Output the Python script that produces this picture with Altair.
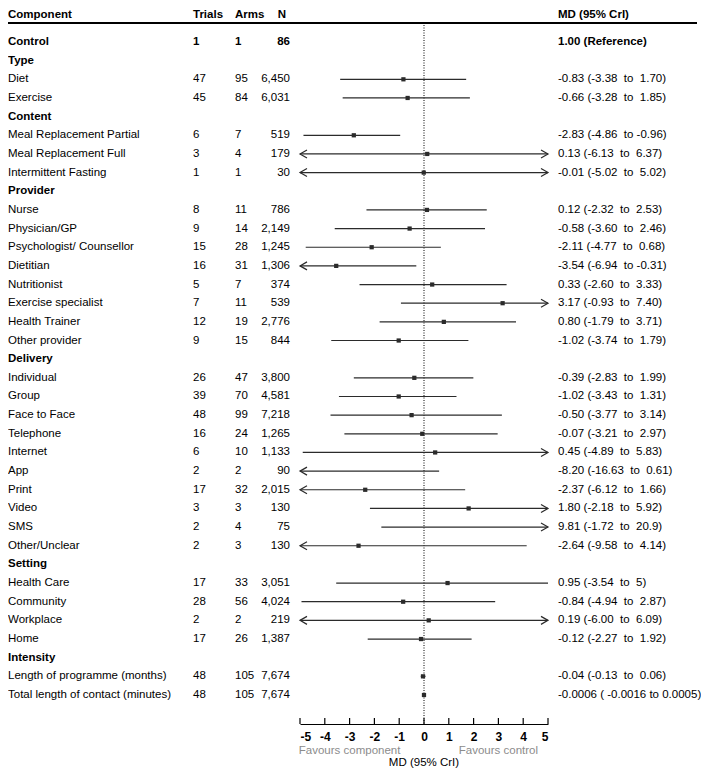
import altair as alt
import pandas as pd

components = ["Control", "Type", "Diet", "Exercise", "Content", "Meal Replacement Partial",
              "Meal Replacement Full", "Intermittent Fasting", "Provider", "Nurse", "Physician/GP",
              "Psychologist/ Counsellor", "Dietitian", "Nutritionist", "Exercise specialist",
              "Health Trainer", "Other provider", "Delivery", "Individual", "Group", "Face to Face",
              "Telephone", "Internet", "App", "Print", "Video", "SMS", "Other/Unclear", "Setting",
              "Health Care", "Community", "Workplace", "Home", "Intensity",
              "Length of programme (months)", "Total length of contact (minutes)"]
bold = [True, True, False, False, True, False, False, False, True, False, False, False, False,
        False, False, False, False, True, False, False, False, False, False, False, False, False,
        False, False, True, False, False, False, False, True, False, False]
trials = [1, None, 47, 45, None, 6, 3, 1, None, 8, 9, 15, 16, 5, 7, 12, 9, None, 26, 39, 48, 16,
          6, 2, 17, 3, 2, 2, None, 17, 28, 2, 17, None, 48, 48]
arms = [1, None, 95, 84, None, 7, 4, 1, None, 11, 14, 28, 31, 7, 11, 19, 15, None, 47, 70, 99, 24,
        10, 2, 32, 3, 4, 3, None, 33, 56, 2, 26, None, 105, 105]
n_obs = [86, None, 6450, 6031, None, 519, 179, 30, None, 786, 2149, 1245, 1306, 374, 539, 2776, 844,
         None, 3800, 4581, 7218, 1265, 1133, 90, 2015, 130, 75, 130, None, 3051, 4024, 219, 1387,
         None, 7674, 7674]
est = [None, None, -0.83, -0.66, None, -2.83, 0.13, -0.01, None, 0.12, -0.58, -2.11, -3.54, 0.33,
       3.17, 0.80, -1.02, None, -0.39, -1.02, -0.50, -0.07, 0.45, -8.20, -2.37, 1.80, 9.81, -2.64,
       None, 0.95, -0.84, 0.19, -0.12, None, -0.04, -0.0006]
lo = [None, None, -3.38, -3.28, None, -4.86, -6.13, -5.02, None, -2.32, -3.60, -4.77, -6.94, -2.60,
      -0.93, -1.79, -3.74, None, -2.83, -3.43, -3.77, -3.21, -4.89, -16.63, -6.12, -2.18, -1.72,
      -9.58, None, -3.54, -4.94, -6.00, -2.27, None, -0.13, -0.0016]
hi = [None, None, 1.70, 1.85, None, -0.96, 6.37, 5.02, None, 2.53, 2.46, 0.68, -0.31, 3.33, 7.40,
      3.71, 1.79, None, 1.99, 1.31, 3.14, 2.97, 5.83, 0.61, 1.66, 5.92, 20.9, 4.14, None, 5, 2.87,
      6.09, 1.92, None, 0.06, 0.0005]
md_labels = [" 1.00 (Reference)", "", "-0.83 (-3.38  to  1.70)", "-0.66 (-3.28  to  1.85)", "",
             "-2.83 (-4.86  to -0.96)", " 0.13 (-6.13  to  6.37)", "-0.01 (-5.02  to  5.02)", "",
             " 0.12 (-2.32  to  2.53)", "-0.58 (-3.60  to  2.46)", "-2.11 (-4.77  to  0.68)",
             "-3.54 (-6.94  to -0.31)", " 0.33 (-2.60  to  3.33)", " 3.17 (-0.93  to  7.40)",
             " 0.80 (-1.79  to  3.71)", "-1.02 (-3.74  to  1.79)", "",
             "-0.39 (-2.83  to  1.99)", "-1.02 (-3.43  to  1.31)", "-0.50 (-3.77  to  3.14)",
             "-0.07 (-3.21  to  2.97)", " 0.45 (-4.89  to  5.83)", "-8.20 (-16.63  to  0.61)",
             "-2.37 (-6.12  to  1.66)", " 1.80 (-2.18  to  5.92)", " 9.81 (-1.72  to  20.9)",
             "-2.64 (-9.58  to  4.14)", "", " 0.95 (-3.54  to  5)", "-0.84 (-4.94  to  2.87)",
             " 0.19 (-6.00  to  6.09)", "-0.12 (-2.27  to  1.92)", "",
             "-0.04 (-0.13  to  0.06)", "-0.0006 ( -0.0016 to 0.0005)"]
tick_values = [-5, -4, -3, -2, -1, 0, 1, 2, 3, 4, 5]
headers = ["Component", "Trials", "Arms", "N", "MD (95% CrI)"]
favours = ["Favours component", "Favours control"]
favours_pos = [-3, 3]

FONT = "Liberation Sans"
FS = 11.5
LINE = "#2b2b2b"

df = pd.DataFrame({
    "row": list(range(len(components))),
    "component": components,
    "bold": bold,
    "trials": trials,
    "arms": arms,
    "n": n_obs,
    "est": est,
    "lo": lo,
    "hi": hi,
    "md": [s.replace(" ", "\u00a0") for s in md_labels],
})

W, H = 693, 716
xscale = alt.Scale(domain=[-5, 5], range=[292, 540], clamp=True)
xaxis = alt.Axis(values=tick_values, ticks=False, grid=False, title=None, labelFontWeight="bold",
                 labelFontSize=12, labelFont=FONT, labelColor="black", labelPadding=7,
                 domainColor="black", domainWidth=1.2, labelExpr="'' + datum.value")
yenc = alt.Y("row:Q", scale=alt.Scale(domain=[0, 35], range=[34, 687]), axis=None)

base = alt.Chart(df)

# CI lines
ci = base.transform_filter("isValid(datum.lo)").mark_rule(color=LINE, strokeWidth=1.2).encode(
    x=alt.X("lo:Q", scale=xscale, axis=xaxis), x2="hi:Q", y=yenc)

pts = base.transform_filter("isValid(datum.est) && abs(datum.est) <= 5").mark_point(
    shape="square", filled=True, color=LINE, size=18, opacity=1).encode(
    x=alt.X("est:Q", scale=xscale, axis=xaxis), y=yenc)

left_arrow = base.transform_filter("isValid(datum.lo) && datum.lo < -5").mark_point(
    shape="M1.75,-1L0,0L1.75,1", filled=False, color=LINE, strokeWidth=1.2, size=64, opacity=1).encode(
    x=alt.X("lo:Q", scale=xscale, axis=xaxis), y=yenc)

right_arrow = base.transform_filter("isValid(datum.hi) && datum.hi > 5").mark_point(
    shape="M-1.75,-1L0,0L-1.75,1", filled=False, color=LINE, strokeWidth=1.2, size=64, opacity=1).encode(
    x=alt.X("hi:Q", scale=xscale, axis=xaxis), y=yenc)

# dotted zero line
zero = alt.Chart(pd.DataFrame({"z": [0]})).mark_rule(
    color="black", strokeWidth=1, strokeDash=[1, 1.5]).encode(
    x=alt.X("z:Q", scale=xscale, axis=xaxis), y=alt.value(17), y2=alt.value(H))

# axis ticks pointing upward
ticks = alt.Chart(pd.DataFrame({"t": tick_values})).mark_rule(color="black", strokeWidth=1.2).encode(
    x=alt.X("t:Q", scale=xscale, axis=xaxis), y=alt.value(H - 6), y2=alt.value(H))


def col(field, xpx, align, fmt=None, is_bold=False, filt=None):
    cond = "datum.bold" if is_bold else "!datum.bold"
    if filt:
        cond = cond + " && " + filt
    if fmt:
        t = alt.Text(f"{field}:Q", format=fmt)
    else:
        t = alt.Text(f"{field}:N")
    return base.transform_filter(cond).mark_text(
        align=align, baseline="middle", font=FONT, fontSize=FS,
        fontWeight="bold" if is_bold else "normal", color="black").encode(
        x=alt.value(xpx), y=yenc, text=t)


text_layers = []
for b in (True, False):
    text_layers.append(col("component", 0, "left", is_bold=b))
    text_layers.append(col("trials", 185, "left", fmt="d", is_bold=b, filt="isValid(datum.trials)"))
    text_layers.append(col("arms", 227, "left", fmt="d", is_bold=b, filt="isValid(datum.arms)"))
    text_layers.append(col("n", 282, "right", fmt=",", is_bold=b, filt="isValid(datum.n)"))
    text_layers.append(col("md", 550, "left", is_bold=b, filt="datum.md != ''"))

hdf = pd.DataFrame({"h": headers, "px": [0, 185, 227, 274, 550],
                    "al": ["left", "left", "left", "center", "left"]})
header_layers = []
for i in range(len(headers)):
    header_layers.append(
        alt.Chart(hdf.iloc[[i]]).mark_text(
            align=hdf["al"][i], baseline="top", font=FONT, fontSize=FS, fontWeight="bold",
            color="black").encode(x=alt.value(int(hdf["px"][i])), y=alt.value(1), text="h:N"))

header_rule = alt.Chart(pd.DataFrame({"a": [0]})).mark_rule(color="black", strokeWidth=2).encode(
    x=alt.value(0), x2=alt.value(689), y=alt.value(15))

fav = alt.Chart(pd.DataFrame({"f": favours, "p": favours_pos})).mark_text(
    font=FONT, fontSize=FS, color="#8c8c8c", baseline="middle").encode(
    x=alt.X("p:Q", scale=xscale, axis=xaxis), y=alt.value(H + 27), text="f:N")

xtitle = alt.Chart(pd.DataFrame({"f": ["MD (95% CrI)"], "p": [0]})).mark_text(
    font=FONT, fontSize=FS, color="black", baseline="middle").encode(
    x=alt.X("p:Q", scale=xscale, axis=xaxis), y=alt.value(H + 39), text="f:N")

chart = alt.layer(
    zero, ci, pts, left_arrow, right_arrow, ticks, header_rule, fav, xtitle,
    *header_layers, *text_layers
).properties(
    width=W, height=H,
    autosize=alt.AutoSizeParams(type="none"),
    padding={"left": 0, "top": 0, "right": 0, "bottom": 46},
).configure(font=FONT, view=alt.ViewConfig(strokeWidth=0))

chart.save("out.html", embed_options={"renderer": "svg", "actions": False})
